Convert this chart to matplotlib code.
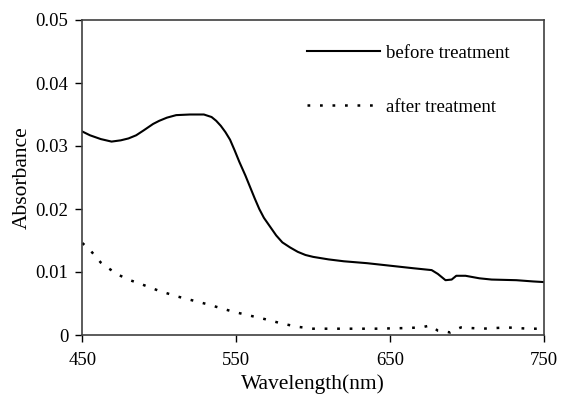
import numpy as np
import matplotlib.pyplot as plt

plt.rcParams['font.family'] = ['Liberation Serif', 'DejaVu Serif']

wl_before = [450, 455, 462, 469, 475, 480, 485, 490, 496, 500, 505, 511, 520, 529, 534, 537,
             540, 543, 546, 549, 552, 556, 559, 562, 565, 568, 572, 576, 580, 585, 590,
             595, 600, 610, 620, 635, 650, 665, 677, 681, 686, 690, 693, 699, 708, 716,
             732, 743, 750]
abs_before = [0.0323, 0.0317, 0.0311, 0.0307, 0.0309, 0.0312, 0.0317, 0.0325, 0.0335, 0.0340,
              0.0345, 0.0349, 0.0350, 0.0350, 0.0346, 0.0340, 0.0332, 0.0322, 0.0310, 0.0293,
              0.0275, 0.0253, 0.0235, 0.0217, 0.0200, 0.0186, 0.0172, 0.0158, 0.0147, 0.0139,
              0.0132, 0.0127, 0.0124, 0.0120, 0.0117, 0.0114, 0.0110, 0.0106, 0.0103, 0.0097,
              0.0087, 0.0088, 0.0094, 0.0094, 0.0090, 0.0088, 0.0087, 0.0085, 0.0084]

wl_after = [450, 455, 462, 467, 473, 481, 488, 500, 512, 531, 548, 569, 580, 590, 600,
            620, 640, 660, 670, 676, 681, 685, 689, 692, 696, 710, 726, 740, 750]
abs_after = [0.0146, 0.0135, 0.0115, 0.0106, 0.0096, 0.0087, 0.0081, 0.0070, 0.0061, 0.0049,
             0.0037, 0.0025, 0.0018, 0.0013, 0.0010, 0.0010, 0.0010, 0.0011, 0.0012, 0.0015,
             0.0007, 0.0006, 0.0004, 0.0008, 0.0012, 0.0010, 0.0012, 0.0010, 0.0010]

fig = plt.figure(figsize=(5.61, 4.01), dpi=100)
ax = fig.add_axes([82.3 / 561, 1 - 335 / 401, 461.7 / 561, 315 / 401])

ax.plot(wl_before, abs_before, color='black', lw=1.5, label='before treatment')
ax.plot(wl_after, abs_after, color='black', lw=1.8, linestyle=(0, (1.1, 3.9)),
        label='after treatment')

ax.set_xlim(450, 750)
ax.set_ylim(0, 0.05)
ax.set_xticks([450, 550, 650, 750])
ax.set_yticks([0, 0.01, 0.02, 0.03, 0.04, 0.05])
ax.set_yticklabels(['0', '0.01', '0.02', '0.03', '0.04', '0.05'])
ax.tick_params(direction='out', length=5, width=1, labelsize=13.5, colors='black')
ax.tick_params(axis='x', pad=7)
ax.tick_params(axis='y', pad=5)
for s in ax.spines.values():
    s.set_linewidth(1.2)
    s.set_color('#404040')

ax.set_xlabel('Wavelength(nm)', fontsize=15.5, labelpad=4)
ax.set_ylabel('Absorbance', fontsize=15.5, labelpad=3)

ax.legend(loc='upper left', bbox_to_anchor=(0.47, 0.945), frameon=False, fontsize=13.5,
          handlelength=3.9, handletextpad=0.32, labelspacing=1.95, borderaxespad=0)

fig.savefig('out.png', dpi=100)
